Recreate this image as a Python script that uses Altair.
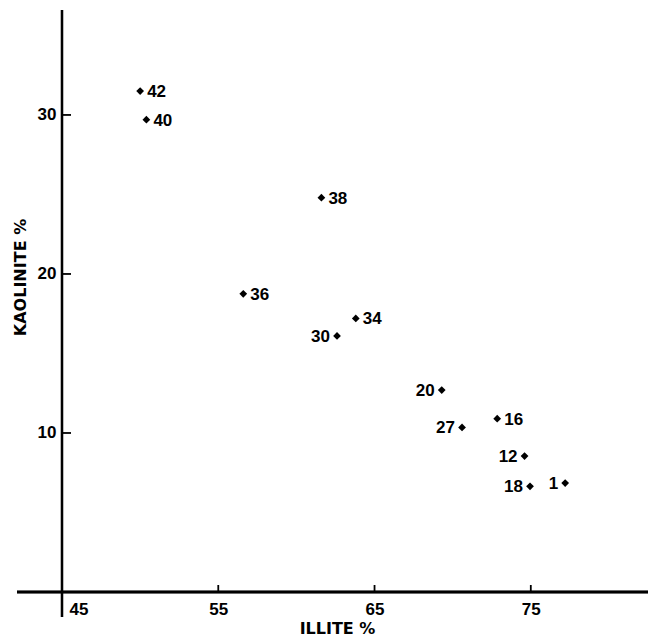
import altair as alt
import pandas as pd

sample_ids = ["42", "40", "38", "36", "34", "30", "20", "27", "16", "12", "18", "1"]
illite = [50.0, 50.4, 61.6, 56.6, 63.8, 62.6, 69.3, 70.6, 72.85, 74.6, 74.95, 77.2]
kaolinite = [31.5, 29.7, 24.8, 18.75, 17.2, 16.1, 12.7, 10.35, 10.9, 8.55, 6.65, 6.85]
label_side = ["right", "right", "right", "right", "right", "left",
              "left", "left", "right", "left", "left", "left"]

x_ticks = [55, 65, 75]
y_ticks = [10, 20, 30]
x_label_values = [45, 55, 65, 75]

W, H = 586, 582
FONT = "Liberation Sans"
TFONT = "DejaVu Sans"

df = pd.DataFrame({"id": sample_ids, "illite": illite, "kaolinite": kaolinite, "side": label_side})
xt = pd.DataFrame({"t": x_ticks})
yt = pd.DataFrame({"t": y_ticks})

xscale = alt.Scale(domain=[45, 82.5], nice=False, zero=False)
yscale = alt.Scale(domain=[0, 36.6], nice=False, zero=False)

xaxis = alt.Axis(
    values=x_label_values, domain=False, ticks=False, grid=False,
    labelFont=FONT, labelFontWeight="bold", labelFontSize=17, labelColor="black",
    labelPadding=9, labelFlush=True, labelFlushOffset=-7,
    title="ILLITE %", titleFont=TFONT, titleFontWeight="bold", titleFontSize=16,
    titleColor="black", titleX=275, titleY=36, titleBaseline="middle", titleAnchor="middle",
)
yaxis = alt.Axis(
    values=y_ticks, domain=False, ticks=False, grid=False,
    labelFont=FONT, labelFontWeight="bold", labelFontSize=17, labelColor="black",
    labelPadding=6,
    title="KAOLINITE %", titleFont=TFONT, titleFontWeight="bold", titleFontSize=16,
    titleColor="black", titleX=-42, titleY=267, titleBaseline="middle", titleAngle=270,
)

base = alt.Chart(df)

points = base.mark_point(shape="diamond", filled=True, color="black", size=60, opacity=1).encode(
    x=alt.X("illite:Q", scale=xscale, axis=xaxis),
    y=alt.Y("kaolinite:Q", scale=yscale, axis=yaxis),
)

labels_right = base.transform_filter(alt.datum.side == "right").mark_text(
    align="left", baseline="middle", dx=7, dy=1, font=FONT, fontWeight="bold", fontSize=17, color="black"
).encode(x=alt.X("illite:Q", scale=xscale), y=alt.Y("kaolinite:Q", scale=yscale), text="id:N")

labels_left = base.transform_filter(alt.datum.side == "left").mark_text(
    align="right", baseline="middle", dx=-7, dy=1, font=FONT, fontWeight="bold", fontSize=17, color="black"
).encode(x=alt.X("illite:Q", scale=xscale), y=alt.Y("kaolinite:Q", scale=yscale), text="id:N")

x_axis_line = alt.Chart(xt).mark_rule(color="black", strokeWidth=2.5).encode(
    x=alt.value(-45), x2=alt.value(W), y=alt.value(H)
)
y_axis_line = alt.Chart(xt).mark_rule(color="black", strokeWidth=2.2).encode(
    x=alt.value(0), y=alt.value(0), y2=alt.value(H + 25)
)
x_tick_marks = alt.Chart(xt).mark_rule(color="black", strokeWidth=1.8).encode(
    x=alt.X("t:Q", scale=xscale), y=alt.value(H), y2=alt.value(H - 7)
)
y_tick_marks = alt.Chart(yt).mark_rule(color="black", strokeWidth=1.8).encode(
    y=alt.Y("t:Q", scale=yscale), x=alt.value(0), x2=alt.value(9)
)

chart = alt.layer(
    x_axis_line, y_axis_line, x_tick_marks, y_tick_marks, points, labels_right, labels_left
).properties(
    width=W, height=H,
    autosize=alt.AutoSizeParams(type="none"),
    padding={"left": 62, "top": 10, "right": 2, "bottom": 51},
    background="white",
).configure_view(stroke=None)

chart.save("out.html", embed_options={"renderer": "svg", "actions": False})
